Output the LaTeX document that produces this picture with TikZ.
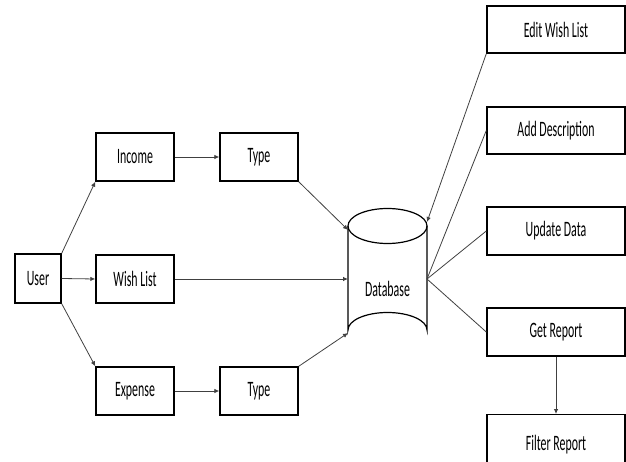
\documentclass[tikz,border=0pt]{standalone}
\usepackage{fontspec}
\setmainfont{Carlito}[FakeStretch=0.54]
\usetikzlibrary{arrows.meta}
\begin{document}
\begin{tikzpicture}[x=1pt,y=-1pt,
  box/.style={draw=black, line width=1.4pt, minimum width=78pt, minimum height=48pt,
    inner sep=0pt, font=\fontsize{22}{22}\selectfont},
  wbox/.style={box, minimum width=138pt},
  conn/.style={draw=black!75, line width=0.8pt},
  arr/.style={conn, -{Latex[length=5pt,width=4.5pt]}},
  dbline/.style={draw=black, line width=1.2pt}]
\useasboundingbox (0,0) rectangle (626,462);
% left nodes
\node[box, minimum width=46pt, minimum height=49pt] (user) at (38,278.5) {User};
\node[box] (income) at (135,157) {Income};
\node[box] (type1) at (259,157) {Type};
\node[box] (wish) at (135,279) {Wish List};
\node[box] (expense) at (135,391) {Expense};
\node[box] (type2) at (259,391) {Type};
% right nodes
\node[wbox, minimum height=47pt] (edit) at (556,29.5) {Edit Wish List};
\node[wbox, minimum height=47pt] (add) at (556,130.5) {Add Description};
\node[wbox] (update) at (556,231) {Update Data};
\node[wbox] (getr) at (556,332) {Get Report};
\node[wbox, minimum height=60pt, anchor=north] (filter) at (556,414) {Filter Report};
% database cylinder
\coordinate (dbtl) at (348,226);
\coordinate (dbtr) at (427,226);
\coordinate (dbbl) at (348,330);
\coordinate (dbbr) at (427,330);
\draw[dbline] (387.5,226) ellipse [x radius=39.5, y radius=17.5];
\draw[dbline] (dbtl) -- (dbbl) arc[start angle=180, end angle=0, x radius=39.5, y radius=-17.5] -- (dbtr);
\node[font=\fontsize{22}{22}\selectfont] (db) at (387.5,289) {Database};
\coordinate (dbl1) at (348,230);
\coordinate (dbl2) at (348,279);
\coordinate (dbl3) at (348,333);
\coordinate (dbr1) at (427,222);
\coordinate (dbr2) at (427,279);
% connectors
\draw[arr] (user.north east) -- (income.south west);
\draw[arr] (user.east) -- (wish.west);
\draw[arr] (user.south east) -- (expense.north west);
\draw[arr] (income) -- (type1);
\draw[arr] (expense) -- (type2);
\draw[arr] (type1.south east) -- (dbl1);
\draw[arr] (wish.east) -- (dbl2);
\draw[arr] (type2.north east) -- (dbl3);
\draw[arr] (edit.south west) -- (dbr1);
\draw[conn] (dbr2) -- (add.west);
\draw[conn] (dbr2) -- (update.west);
\draw[conn] (dbr2) -- (getr.west);
\draw[arr] (getr) -- (filter.north);
\end{tikzpicture}
\end{document}
